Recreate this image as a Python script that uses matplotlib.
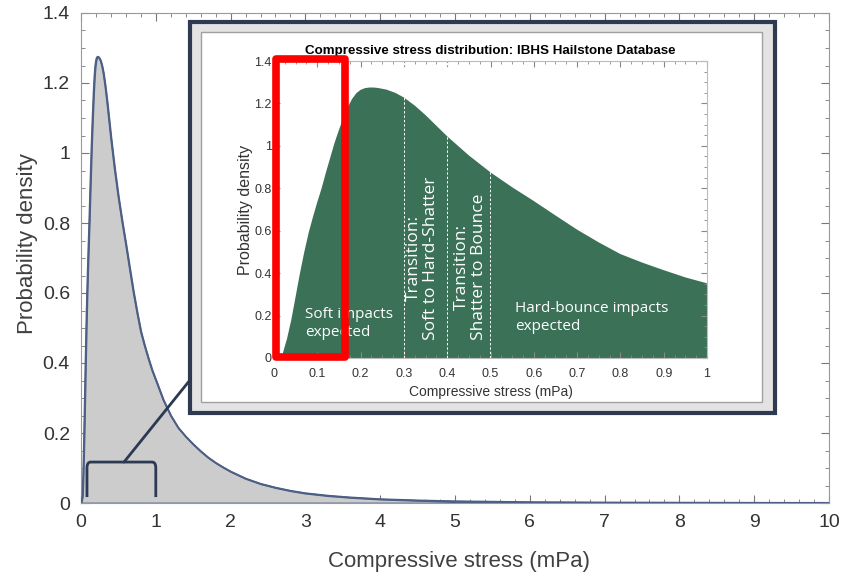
import matplotlib
matplotlib.use("Agg")
import matplotlib.pyplot as plt
from matplotlib.patches import Rectangle, PathPatch, ConnectionPatch
from matplotlib.path import Path
from matplotlib.ticker import MultipleLocator, FormatStrFormatter

# ---------------------------------------------------------
# data (compressive stress pdf)
# ---------------------------------------------------------
stress = [0.0, 0.02, 0.03, 0.04, 0.05, 0.06, 0.07, 0.08, 0.09, 0.10,
          0.11, 0.12, 0.13, 0.14, 0.15, 0.16, 0.17, 0.18, 0.19, 0.20,
          0.21, 0.22, 0.23, 0.24, 0.26, 0.28, 0.30, 0.325, 0.35, 0.375,
          0.40, 0.45, 0.50, 0.55, 0.60, 0.65, 0.70, 0.75, 0.80, 0.85,
          0.90, 0.95, 1.00, 1.10, 1.20, 1.30, 1.40, 1.50, 1.60, 1.70,
          1.80, 1.90, 2.00, 2.20, 2.40, 2.60, 2.80, 3.00, 3.30, 3.60,
          4.00, 4.50, 5.00, 6.00, 7.00, 8.00, 9.00, 10.0]
density = [0.0, 0.02, 0.09, 0.18, 0.29, 0.40, 0.50, 0.59, 0.665, 0.735,
           0.80, 0.875, 0.945, 1.015, 1.075, 1.13, 1.18, 1.22, 1.248, 1.264,
           1.272, 1.275, 1.275, 1.273, 1.265, 1.25, 1.228, 1.19, 1.145, 1.095,
           1.045, 0.955, 0.875, 0.805, 0.74, 0.672, 0.605, 0.545, 0.49, 0.45,
           0.414, 0.38, 0.352, 0.295, 0.25, 0.215, 0.19, 0.168, 0.148, 0.13,
           0.115, 0.102, 0.09, 0.07, 0.055, 0.044, 0.035, 0.028, 0.021, 0.016,
           0.011, 0.0075, 0.005, 0.0025, 0.0015, 0.001, 0.0006, 0.0004]

# impact regime boundaries (mPa)
bounds = [0.3, 0.4, 0.5]
regime_labels = ["Soft impacts\nexpected",
                 "Transition:\nSoft to Hard-Shatter",
                 "Transition:\nShatter to Bounce",
                 "Hard-bounce impacts\nexpected"]

zoom_range = (0.08, 1.0)          # bracket on the main chart
highlight_range = (0.005, 0.164)  # red box in the inset

FONT = ["Liberation Sans", "DejaVu Sans"]
LABELFONT = ["Open Sans", "DejaVu Sans"]
plt.rcParams["font.family"] = FONT

W, H = 849, 577
fig = plt.figure(figsize=(W / 100, H / 100), dpi=100)


def px(x0, y0, x1, y1):
    # pixel box -> figure fraction [left, bottom, width, height]
    return [x0 / W, 1 - y1 / H, (x1 - x0) / W, (y1 - y0) / H]


# ---------------- main chart ----------------
ax = fig.add_axes(px(81, 13, 829, 503))
ax.fill_between(stress, density, 0, facecolor="#cccccc",
                edgecolor="#4d5f85", linewidth=1.3, zorder=2)
ax.plot(stress, density, color="#4d5f85", lw=1.3, zorder=3)
ax.set_xlim(0, 10)
ax.set_ylim(0, 1.4)
ax.xaxis.set_major_locator(MultipleLocator(1))
ax.xaxis.set_minor_locator(MultipleLocator(0.2))
ax.yaxis.set_major_locator(MultipleLocator(0.2))
ax.yaxis.set_minor_locator(MultipleLocator(0.05))
ax.yaxis.set_major_formatter(FormatStrFormatter("%g"))
ax.tick_params(which="both", direction="in", top=True, right=True,
               color="#777777", labelsize=14, labelcolor="#333333")
ax.tick_params(which="major", length=6, pad=8)
ax.tick_params(which="minor", length=3)
for s in ax.spines.values():
    s.set_color("#999999")
ax.set_xlabel("Compressive stress (mPa)", fontsize=16, color="#404040")
ax.set_ylabel("Probability density", fontsize=16, color="#404040")
ax.xaxis.set_label_coords(0.505, -0.097)
ax.yaxis.set_label_coords(-0.058, 0.53)

# bracket marking the zoomed region
bx0, bx1 = zoom_range
btop, bbot, r = 0.117, 0.017, 0.017
verts = [(bx0, bbot), (bx0, btop - r), (bx0, btop), (bx0 + 0.05, btop),
         (bx1 - 0.05, btop), (bx1, btop), (bx1, btop - r), (bx1, bbot)]
codes = [Path.MOVETO, Path.LINETO, Path.CURVE3, Path.CURVE3,
         Path.LINETO, Path.CURVE3, Path.CURVE3, Path.LINETO]
ax.add_patch(PathPatch(Path(verts, codes), fill=False, edgecolor="#2b3a52",
                       lw=2, zorder=4))

# ---------------- inset frame ----------------
f = px(190, 22, 775, 413)
frame = Rectangle((f[0], f[1]), f[2], f[3], transform=fig.transFigure,
                  facecolor="#e3e3e3", edgecolor="#2d3a4f", lw=3, zorder=2)
fig.add_artist(frame)
b = px(201, 32, 762, 402)
panel = Rectangle((b[0], b[1]), b[2], b[3], transform=fig.transFigure,
                  facecolor="white", edgecolor="#a0a0a0", lw=1, zorder=2.1)
fig.add_artist(panel)

con = ConnectionPatch(xyA=(0.575, btop), coordsA=ax.transData,
                      xyB=(190 / W, 1 - 380 / H), coordsB=fig.transFigure,
                      color="#2b3a52", lw=2, zorder=1.5)
fig.add_artist(con)

# ---------------- inset chart ----------------
ax2 = fig.add_axes(px(274, 61, 707, 358), zorder=3)
ax2.fill_between(stress, density, 0, color="#3b7157", linewidth=0)
for xb in bounds:
    ax2.axvline(xb, color="white", ls=(0, (2.5, 2)), lw=0.7)
ax2.set_xlim(0, 1)
ax2.set_ylim(0, 1.4)
ax2.xaxis.set_major_locator(MultipleLocator(0.1))
ax2.xaxis.set_minor_locator(MultipleLocator(0.025))
ax2.yaxis.set_major_locator(MultipleLocator(0.2))
ax2.yaxis.set_minor_locator(MultipleLocator(0.05))
ax2.xaxis.set_major_formatter(FormatStrFormatter("%g"))
ax2.yaxis.set_major_formatter(FormatStrFormatter("%g"))
ax2.tick_params(which="both", direction="in", top=True, right=True,
                color="#888888", labelsize=9, labelcolor="#333333")
ax2.tick_params(axis="x", pad=7)
ax2.tick_params(axis="y", pad=1.5)
ax2.tick_params(which="major", length=4)
ax2.tick_params(which="minor", length=2)
for s in ax2.spines.values():
    s.set_color("#bbbbbb")
    s.set_linewidth(0.8)
ax2.set_xlabel("Compressive stress (mPa)", fontsize=10, color="#333333",
               labelpad=4)
ax2.set_ylabel("Probability density", fontsize=11.5, color="#333333",
               labelpad=1)
ax2.set_title("Compressive stress distribution: IBHS Hailstone Database",
              fontsize=9.6, fontweight="bold", pad=5)

txt = dict(color="white", family=LABELFONT)
ax2.text(0.072, 0.163, regime_labels[0], ha="left", va="center",
         fontsize=11, linespacing=1.3, **txt)
ax2.text(0.342, 0.085, regime_labels[1], rotation=90, ha="center",
         va="bottom", fontsize=12.5, linespacing=1.1, **txt)
ax2.text(0.453, 0.085, regime_labels[2], rotation=90, ha="center",
         va="bottom", fontsize=12.5, linespacing=1.1, **txt)
ax2.text(0.557, 0.19, regime_labels[3], ha="left", va="center",
         fontsize=11, linespacing=1.3, **txt)

hx0, hx1 = highlight_range
ax2.add_patch(Rectangle((hx0, 0.007), hx1 - hx0, 1.403, fill=False,
                        edgecolor="#ff0000", lw=5.5, joinstyle="round",
                        clip_on=False, zorder=5))

fig.savefig("out.png", dpi=100)
